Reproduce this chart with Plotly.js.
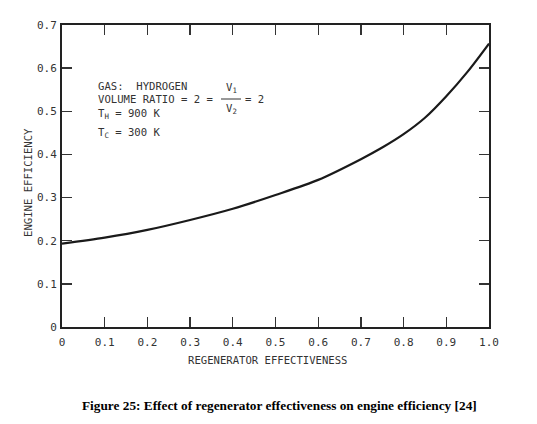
<!DOCTYPE html>
<html>
<head>
<meta charset="utf-8">
<script src="https://cdn.plot.ly/plotly-3.0.1.min.js"></script>
<style>html,body{margin:0;padding:0;background:#fff;}#chart{width:537px;height:424px;}</style>
</head>
<body>
<div id="chart"></div>
<script>
// Data
const effectiveness = [0, 0.1, 0.2, 0.3, 0.4, 0.5, 0.6, 0.7, 0.75, 0.8, 0.85, 0.9, 0.95, 1.0];
const efficiency    = [0.193, 0.207, 0.225, 0.248, 0.274, 0.306, 0.341, 0.389, 0.416, 0.447, 0.485, 0.535, 0.592, 0.657];
const xTickVals  = [0, 0.1, 0.2, 0.3, 0.4, 0.5, 0.6, 0.7, 0.8, 0.9, 1.0];
const xTickText  = ["0", "0.1", "0.2", "0.3", "0.4", "0.5", "0.6", "0.7", "0.8", "0.9", "1.0"];
const yTickVals  = [0, 0.1, 0.2, 0.3, 0.4, 0.5, 0.6, 0.7];
const yTickText  = ["0", "0.1", "0.2", "0.3", "0.4", "0.5", "0.6", "0.7"];

const W = 537, H = 424;
const M = {l: 62, r: 48, t: 25, b: 97};
const PW = W - M.l - M.r, PH = H - M.t - M.b;
const px = x => (x - M.l) / PW;
const py = y => (M.t + PH - y) / PH;

const mono = "DejaVu Sans Mono, Liberation Mono, monospace";
const txtCol = "#333";

function ann(text, x, y, xa, extra) {
  return Object.assign({
    text: text, xref: "paper", yref: "paper", x: px(x), y: py(y),
    xanchor: xa || "left", yanchor: "middle", showarrow: false,
    font: {family: mono, size: 10.6, color: txtCol}
  }, extra || {});
}

const annotations = [
  ann("GAS:&nbsp;&nbsp;HYDROGEN", 96, 86),
  ann("VOLUME RATIO = 2 =", 96, 99),
  ann("V<sub>1</sub>", 231, 88, "center"),
  ann("V<sub>2</sub>", 231, 109, "center"),
  ann("= 2", 243, 99),
  ann("T<sub>H</sub> = 900 K", 96, 114),
  ann("T<sub>C</sub> = 300 K", 96, 133),
  ann("ENGINE EFFICIENCY", 28, 183, "center", {textangle: -90}),
  ann("REGENERATOR EFFECTIVENESS", 267, 360, "center"),
  ann("<b>Figure 25: Effect of regenerator effectiveness on engine efficiency [24]</b>", 279, 405, "center",
      {font: {family: "Liberation Serif, Times New Roman, serif", size: 13.3, color: "#000"}})
];

const shapes = [
  {type: "line", xref: "paper", yref: "paper", x0: px(221), x1: px(241), y0: py(99), y1: py(99),
   line: {color: txtCol, width: 1}}
];

const trace = {
  x: effectiveness, y: efficiency, type: "scatter", mode: "lines",
  line: {color: "#1a1a1a", width: 2.2, shape: "spline", smoothing: 0.8},
  hoverinfo: "skip"
};

const axisCommon = {
  showgrid: false, zeroline: false, showline: true, linecolor: "#222", linewidth: 2,
  mirror: "ticks", ticks: "inside", ticklen: 10, tickwidth: 1.3, tickcolor: "#333",
  tickmode: "array", tickfont: {family: mono, size: 11, color: txtCol}
};

const layout = {
  width: W, height: H, margin: M, showlegend: false,
  paper_bgcolor: "#fff", plot_bgcolor: "#fff",
  xaxis: Object.assign({}, axisCommon, {range: [0, 1], tickvals: xTickVals, ticktext: xTickText, ticklabelstandoff: 4}),
  yaxis: Object.assign({}, axisCommon, {range: [0, 0.7], tickvals: yTickVals, ticktext: yTickText, ticklabelstandoff: 1}),
  annotations: annotations, shapes: shapes
};

Plotly.newPlot("chart", [trace], layout, {staticPlot: true, displayModeBar: false});
</script>
</body>
</html>
